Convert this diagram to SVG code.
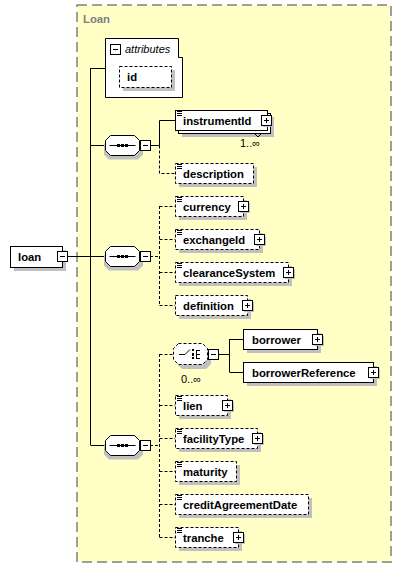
<svg xmlns="http://www.w3.org/2000/svg" xmlns:xlink="http://www.w3.org/1999/xlink" width="402" height="568" viewBox="0 0 402 568">
<style>
text{font-family:"Liberation Sans",Arial,sans-serif;fill:#000}
.lbl{font-size:11.3px;font-weight:bold}
.card{font-size:11px}
.title{font-size:11.3px;font-weight:bold;fill:#808080}
.sh{fill:#C0C0C0;stroke:none}
.box{fill:#fff;stroke:#000;stroke-width:1}
.opt{fill:#fff;stroke:#000;stroke-width:1;stroke-dasharray:3,2}
.ln{fill:none;stroke:#000;stroke-width:1}
.dl{fill:none;stroke:#000;stroke-width:1;stroke-dasharray:3,2}
.ic{stroke:#000;stroke-width:1}
</style>
<defs>
<g id="plus"><rect x="2" y="2" width="10" height="10" fill="#C0C0C0"/><rect x="0.5" y="0.5" width="10" height="10" fill="#fff" stroke="#000"/><path d="M3 5.5H8M5.5 3V8" stroke="#000" stroke-width="1"/></g>
<g id="minus"><rect x="0.5" y="0.5" width="10" height="10" fill="#fff" stroke="#000"/><path d="M3 5.5H8" stroke="#000"/></g>
<g id="doc"><path d="M2 1.5H7M2 3.5H7M2 5.5H7" stroke="#000" stroke-width="1"/></g>
<g id="seq"><path d="M4,4.5 L33,4.5 L38,9.5 L38,19.5 L33,24.5 L4,24.5 L-1,19.5 L-1,9.5 Z" fill="#C0C0C0"/><path d="M5.5,0.5 L29.5,0.5 L34.5,5.5 L34.5,15.5 L29.5,20.5 L5.5,20.5 L0.5,15.5 L0.5,5.5 Z" fill="#fff" stroke="#000"/><path d="M4.5 10.5H30.5" stroke="#000"/><rect x="12" y="9" width="3" height="3" fill="#000"/><rect x="16" y="9" width="3" height="3" fill="#000"/><rect x="20" y="9" width="3" height="3" fill="#000"/></g>
</defs>
<rect x="77" y="5" width="314" height="557" fill="#FFFFC6" stroke="#808080" stroke-width="1.5" stroke-dasharray="10,5"/>
<text class="title" x="83" y="23">Loan</text>
<g id="connectors">
<path class="ln" d="M68 256.5H105M90.5 68V445M90.5 68.5H105M90.5 145.5H105M90.5 445.5H105"/>
<path class="ln" d="M150 145.5H159.5V120.5H175"/>
<path class="dl" d="M159.5 145.5V173.5H175"/>
<path class="dl" d="M150 256.5H159.5M159.5 206V305M159.5 206.5H175M159.5 239.5H175M159.5 272.5H175M159.5 305.5H175"/>
<path class="dl" d="M150 445.5H159.5M159.5 354V537M159.5 354.5H173M159.5 405.5H175M159.5 438.5H175M159.5 471.5H175M159.5 504.5H175M159.5 537.5H175"/>
<path class="ln" d="M219 354.5H229.5M229.5 339V372M229.5 339.5H243M229.5 372.5H243"/>
</g>
<g id="n-attributes">
<path d="M105.5 38.5H178.5V57.5H182.5V97.5H105.5Z" fill="#fff" stroke="#000"/>
<use xlink:href="#minus" x="110" y="44"/>
<text x="125" y="53" style="font-size:11px;font-style:italic">attributes</text>
</g>
<g id="n-id">
<rect class="sh" x="123" y="70" width="52" height="21"/>
<rect class="opt" x="119.5" y="66.5" width="52" height="21"/>
<text class="lbl" x="127" y="81">id</text>
</g>
<g id="n-loan">
<rect class="sh" x="14" y="250" width="52" height="21"/>
<rect class="box" x="10.5" y="246.5" width="52" height="21"/>
<text class="lbl" x="18" y="261">loan</text>
<use xlink:href="#minus" x="57" y="251"/>
</g>
<g id="n-seq1"><use xlink:href="#seq" x="105" y="135"/><use xlink:href="#minus" x="140" y="140"/></g>
<g id="n-seq2"><use xlink:href="#seq" x="105" y="246"/><use xlink:href="#minus" x="140" y="251"/></g>
<g id="n-seq3"><use xlink:href="#seq" x="105" y="435"/><use xlink:href="#minus" x="140" y="440"/></g>
<g id="n-instrumentId">
<rect class="sh" x="182" y="117" width="92" height="20"/>
<rect class="box" x="178.5" y="113.5" width="92" height="20"/>
<rect class="box" x="175.5" y="110.5" width="92" height="20"/>
<use xlink:href="#doc" x="175" y="110"/>
<text class="lbl" x="183" y="125">instrumentId</text>
<use xlink:href="#plus" x="261" y="115"/>
<path class="ln" d="M254.5 133.5L258 137L261.5 133.5" fill="#fff"/>
<text class="card" x="240" y="147">1..∞</text>
</g>
<g id="n-description">
<rect class="sh" x="179" y="167" width="78" height="20"/>
<rect class="opt" x="175.5" y="163.5" width="78" height="20"/>
<use xlink:href="#doc" x="175" y="163"/>
<text class="lbl" x="183" y="178">description</text>
</g>
<g id="n-currency">
<rect class="sh" x="179" y="200" width="68" height="20"/>
<rect class="opt" x="175.5" y="196.5" width="68" height="20"/>
<use xlink:href="#doc" x="175" y="196"/>
<text class="lbl" x="183" y="211">currency</text>
<use xlink:href="#plus" x="238" y="201"/>
</g>
<g id="n-exchangeId">
<rect class="sh" x="179" y="233" width="84" height="20"/>
<rect class="opt" x="175.5" y="229.5" width="84" height="20"/>
<use xlink:href="#doc" x="175" y="229"/>
<text class="lbl" x="183" y="244">exchangeId</text>
<use xlink:href="#plus" x="254" y="234"/>
</g>
<g id="n-clearanceSystem">
<rect class="sh" x="179" y="266" width="113" height="20"/>
<rect class="opt" x="175.5" y="262.5" width="113" height="20"/>
<use xlink:href="#doc" x="175" y="262"/>
<text class="lbl" x="183" y="277">clearanceSystem</text>
<use xlink:href="#plus" x="283" y="267"/>
</g>
<g id="n-definition">
<rect class="sh" x="179" y="299" width="72" height="20"/>
<rect class="opt" x="175.5" y="295.5" width="72" height="20"/>
<text class="lbl" x="183" y="310">definition</text>
<use xlink:href="#plus" x="242" y="300"/>
</g>
<g id="n-choice">
<path d="M182,348 L206,348 L211,353 L211,364 L206,369 L182,369 L177,364 L177,353 Z" fill="#C0C0C0"/>
<path d="M178.5,343.5 L202.5,343.5 L207.5,348.5 L207.5,359.5 L202.5,364.5 L178.5,364.5 L173.5,359.5 L173.5,348.5 Z" fill="#fff" stroke="#000" stroke-dasharray="3,2"/>
<path class="ln" d="M179 354.5H185L190 349.5M196.5 350V359M196.5 350.5H200M196.5 354.5H200M196.5 358.5H200"/>
<rect x="192" y="349" width="2" height="2" fill="#000"/><rect x="192" y="353" width="2" height="3" fill="#000"/><rect x="192" y="357" width="2" height="2" fill="#000"/>
<use xlink:href="#minus" x="208" y="349"/>
<text class="card" x="181" y="383">0..∞</text>
</g>
<g id="n-borrower">
<rect class="sh" x="247" y="333" width="74" height="20"/>
<rect class="box" x="243.5" y="329.5" width="74" height="20"/>
<text class="lbl" x="252" y="344">borrower</text>
<use xlink:href="#plus" x="312" y="334"/>
</g>
<g id="n-borrowerReference">
<rect class="sh" x="247" y="366" width="130" height="20"/>
<rect class="box" x="243.5" y="362.5" width="130" height="20"/>
<text class="lbl" x="252" y="377">borrowerReference</text>
<use xlink:href="#plus" x="368" y="367"/>
</g>
<g id="n-lien">
<rect class="sh" x="179" y="399" width="52" height="20"/>
<rect class="opt" x="175.5" y="395.5" width="52" height="20"/>
<use xlink:href="#doc" x="175" y="395"/>
<text class="lbl" x="183" y="410">lien</text>
<use xlink:href="#plus" x="222" y="400"/>
</g>
<g id="n-facilityType">
<rect class="sh" x="179" y="432" width="82" height="20"/>
<rect class="opt" x="175.5" y="428.5" width="82" height="20"/>
<use xlink:href="#doc" x="175" y="428"/>
<text class="lbl" x="183" y="443">facilityType</text>
<use xlink:href="#plus" x="252" y="433"/>
</g>
<g id="n-maturity">
<rect class="sh" x="179" y="465" width="61" height="20"/>
<rect class="opt" x="175.5" y="461.5" width="61" height="20"/>
<use xlink:href="#doc" x="175" y="461"/>
<text class="lbl" x="183" y="476">maturity</text>
</g>
<g id="n-creditAgreementDate">
<rect class="sh" x="179" y="498" width="133" height="20"/>
<rect class="opt" x="175.5" y="494.5" width="133" height="20"/>
<use xlink:href="#doc" x="175" y="494"/>
<text class="lbl" x="183" y="509">creditAgreementDate</text>
</g>
<g id="n-tranche">
<rect class="sh" x="179" y="531" width="63" height="20"/>
<rect class="opt" x="175.5" y="527.5" width="63" height="20"/>
<use xlink:href="#doc" x="175" y="527"/>
<text class="lbl" x="183" y="542">tranche</text>
<use xlink:href="#plus" x="233" y="532"/>
</g>
</svg>
